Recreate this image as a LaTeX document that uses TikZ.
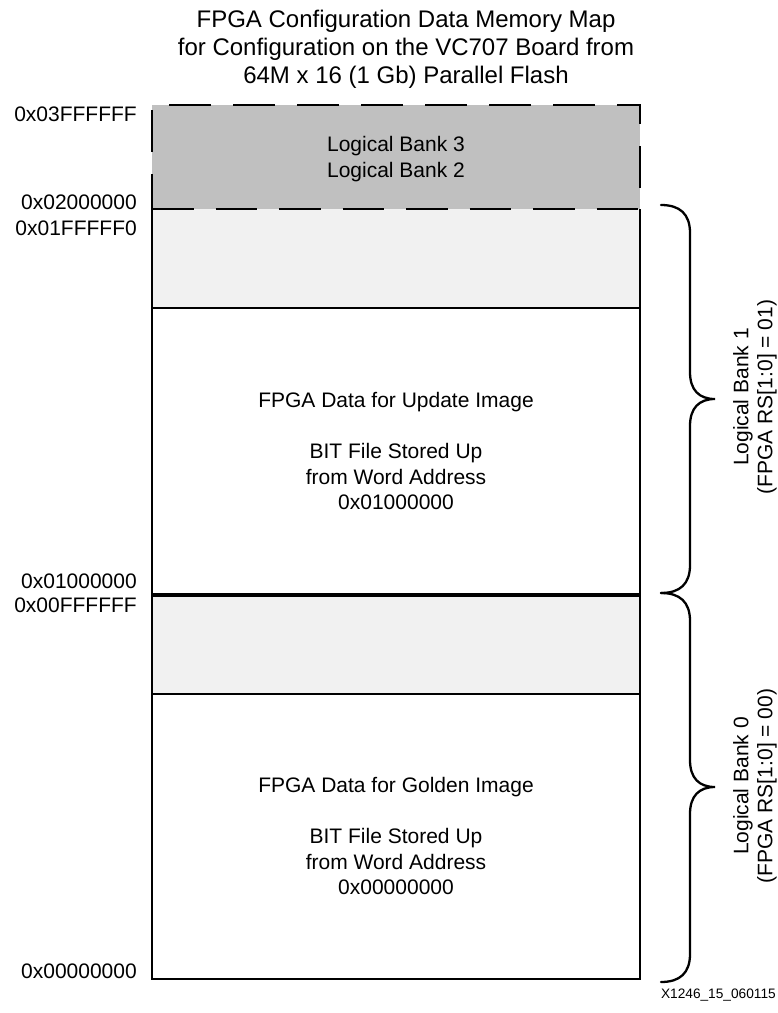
\documentclass[tikz,border=0pt]{standalone}
\usepackage{fontspec}
\setmainfont{Liberation Sans}
\definecolor{bankgray}{RGB}{192,192,192}
\definecolor{lightfill}{RGB}{241,241,241}

\begin{document}
\begin{tikzpicture}[x=1pt,y=-1pt,
    addr/.style={anchor=east,inner sep=0pt,font=\fontsize{21}{25.5}\selectfont},
    boxtext/.style={align=center,inner sep=0pt,font=\fontsize{21}{25.5}\selectfont},
    banklabel/.style={align=center,inner sep=0pt,rotate=90,font=\fontsize{21}{24}\selectfont},
    edge/.style={line width=2.6pt},
    bracket/.style={line width=2.3pt,line cap=round}]
          \useasboundingbox (0,0) rectangle (778,1013);
          % title
          \node[align=center,inner sep=0pt,font=\fontsize{24}{28}\selectfont] (title) at (406,49)
            {FPGA Configuration Data Memory Map\\for Configuration on the VC707 Board from\\64M x 16 (1 Gb) Parallel Flash};
          % fills
          \fill[bankgray] (152,105) rectangle (640,209);
          \fill[lightfill] (152,209) rectangle (640,308);
          \fill[lightfill] (152,595) rectangle (640,694);
          % outlines
          \draw[edge,dash pattern=on 42pt off 22pt,dash phase=7pt] (152,209) -- (152,105) -- (640,105) -- (640,209);
          \draw[edge,dash pattern=on 41.5pt off 22pt] (152,209) -- (640,209);
          \draw[edge] (152,209) -- (152,979) -- (640,979) -- (640,209);
          \draw[edge] (152,308) -- (640,308);
          \draw[edge,line width=3.2pt] (152,595) -- (640,595);
          \draw[edge] (152,694) -- (640,694);
          % addresses
          \node[addr] (a3ff) at (137,114) {0x03FFFFFF};
          \node[addr] (a200) at (137,202) {0x02000000};
          \node[addr] (a1ff) at (137,228) {0x01FFFFF0};
          \node[addr] (a100) at (137,581) {0x01000000};
          \node[addr] (a0ff) at (137,605) {0x00FFFFFF};
          \node[addr] (a000) at (137,971) {0x00000000};
          % block texts
          \node[boxtext] (upper) at (396,159) {Logical Bank 3\\Logical Bank 2};
          \node[boxtext] (update) at (396,451)
            {FPGA Data for Update Image\\[25.5pt]BIT File Stored Up\\from Word Address\\0x01000000};
          \node[boxtext] (golden) at (396,836)
            {FPGA Data for Golden Image\\[25.5pt]BIT File Stored Up\\from Word Address\\0x00000000};
          % braces
          \draw[bracket] (661,205) .. controls (680,205) and (690,214) .. (690,233) -- (690,372)
            .. controls (690,390) and (699,399) .. (715,399) .. controls (699,399) and (690,408) .. (690,426)
            -- (690,565) .. controls (690,584) and (680,593) .. (661,593);
          \draw[bracket] (661,593) .. controls (680,593) and (690,602) .. (690,621) -- (690,760)
            .. controls (690,778) and (699,787) .. (715,787) .. controls (699,787) and (690,796) .. (690,814)
            -- (690,954) .. controls (690,973) and (680,982) .. (661,982);
          \node[banklabel] (bank1) at (755,397) {Logical Bank 1\\(FPGA RS[1:0] = 01)};
          \node[banklabel] (bank0) at (755,786) {Logical Bank 0\\(FPGA RS[1:0] = 00)};
          % figure id
          \node[anchor=east,inner sep=0pt,font=\fontsize{13.7}{16}\selectfont] (figid) at (776,995) {X1246\_15\_060115};
        \end{tikzpicture}
\end{document}
